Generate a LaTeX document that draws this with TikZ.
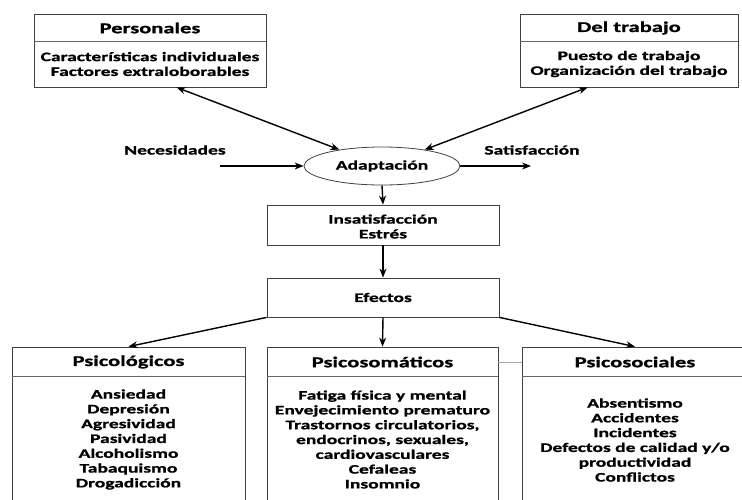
\documentclass[tikz,border=0pt]{standalone}
\usepackage{fontspec}
\setmainfont{Carlito}[FakeStretch=1.5, FakeBold=1]
\usetikzlibrary{shapes.geometric,arrows.meta}
\begin{document}
\begin{tikzpicture}[x=1pt,y=-1pt,
  box/.style={draw=black!75, line width=0.8pt, rectangle, inner sep=0pt},
  divl/.style={draw=black!60, line width=0.7pt},
  hd/.style={font=\fontsize{15}{17}\selectfont\bfseries, inner sep=0pt},
  tx/.style={font=\fontsize{13}{14.8}\selectfont\bfseries, align=center, inner sep=0pt},
  arr/.style={-{Stealth[length=9pt,width=7pt]}, line width=1.4pt},
  darr/.style={{Stealth[length=9pt,width=7pt]}-{Stealth[length=9pt,width=7pt]}, line width=1.4pt}]
\clip (0,0) rectangle (742,499);
\fill[white] (0,0) rectangle (742,499);
% top boxes
\node[box, minimum width=232pt, minimum height=73pt] (pers) at (150,50.5) {};
\draw[divl] (pers.north west) ++(0,28) -- ++(232,0);
\node[hd] (persh) at (150,28) {Personales};
\node[tx] (perst) at (150,64) {Características individuales\\Factores extraloborables};
\node[box, minimum width=218pt, minimum height=73pt] (trab) at (629,50.5) {};
\draw[divl] (trab.north west) ++(0,28) -- ++(218,0);
\node[hd] (trabh) at (629,28) {Del trabajo};
\node[tx] (trabt) at (629,64) {Puesto de trabajo\\Organización del trabajo};
% ellipse
\node[draw=black!75, line width=0.8pt, ellipse, minimum width=156pt, minimum height=38pt, inner sep=0pt, font=\fontsize{13}{15}\selectfont\bfseries] (adapt) at (382,166) {Adaptación};
\node[tx] (nec) at (175,150) {Necesidades};
\node[tx] (sat) at (532,150) {Satisfacción};
\coordinate (necs) at (220,166);
\coordinate (sate) at (531,166);
% middle boxes
\node[box, minimum width=232pt, minimum height=40pt] (insat) at (383,225) {};
\node[tx] (insatt) at (383,226.5) {Insatisfacción\\Estrés};
\node[box, minimum width=232pt, minimum height=39pt] (efec) at (383,297.5) {};
\node[tx] (efect) at (383,297.5) {Efectos};
% bottom boxes
\node[box, minimum width=233pt, minimum height=173pt] (ps1) at (128.5,433.5) {};
\draw[divl] (ps1.north west) ++(0,30) -- ++(233,0);
\node[hd] (ps1h) at (128.5,362) {Psicológicos};
\node[tx] (ps1t) at (128.5,439.5) {Ansiedad\\Depresión\\Agresividad\\Pasividad\\Alcoholismo\\Tabaquismo\\Drogadicción};
\node[box, minimum width=231pt, minimum height=173pt] (ps2) at (382.5,433.5) {};
\draw[divl] (ps2.north west) ++(0,30) -- ++(231,0);
\node[hd] (ps2h) at (382.5,362) {Psicosomáticos};
\node[tx] (ps2t) at (382.5,439.5) {Fatiga física y mental\\Envejecimiento prematuro\\Trastornos circulatorios,\\endocrinos, sexuales,\\cardiovasculares\\Cefaleas\\Insomnio};
\node[box, minimum width=226pt, minimum height=173pt] (ps3) at (635,433.5) {};
\draw[divl] (ps3.north west) ++(0,30) -- ++(226,0);
\node[hd] (ps3h) at (635,362) {Psicosociales};
\node[tx] (ps3t) at (635,440) {Absentismo\\Accidentes\\Incidentes\\Defectos de calidad y/o\\productividad\\Conflictos};
% connectors
\draw[darr] ([xshift=143pt]pers.south west) -- (adapt);
\draw[darr] ([xshift=68pt]trab.south west) -- (adapt);
\draw[arr] (necs) -- (adapt.west);
\draw[arr] (adapt.east) -- (sate);
\draw[arr] (adapt.south) -- (insat.north);
\draw[arr] (insat.south) -- (efec.north);
\draw[arr] (efec.south west) -- (ps1.north);
\draw[arr] (efec.south) -- (ps2.north);
\draw[arr] (efec.south east) -- (ps3.north);
\draw[draw=black!35, line width=0.8pt] (ps2.east |- ps2h) -- (ps3.west |- ps3h);
\end{tikzpicture}
\end{document}
